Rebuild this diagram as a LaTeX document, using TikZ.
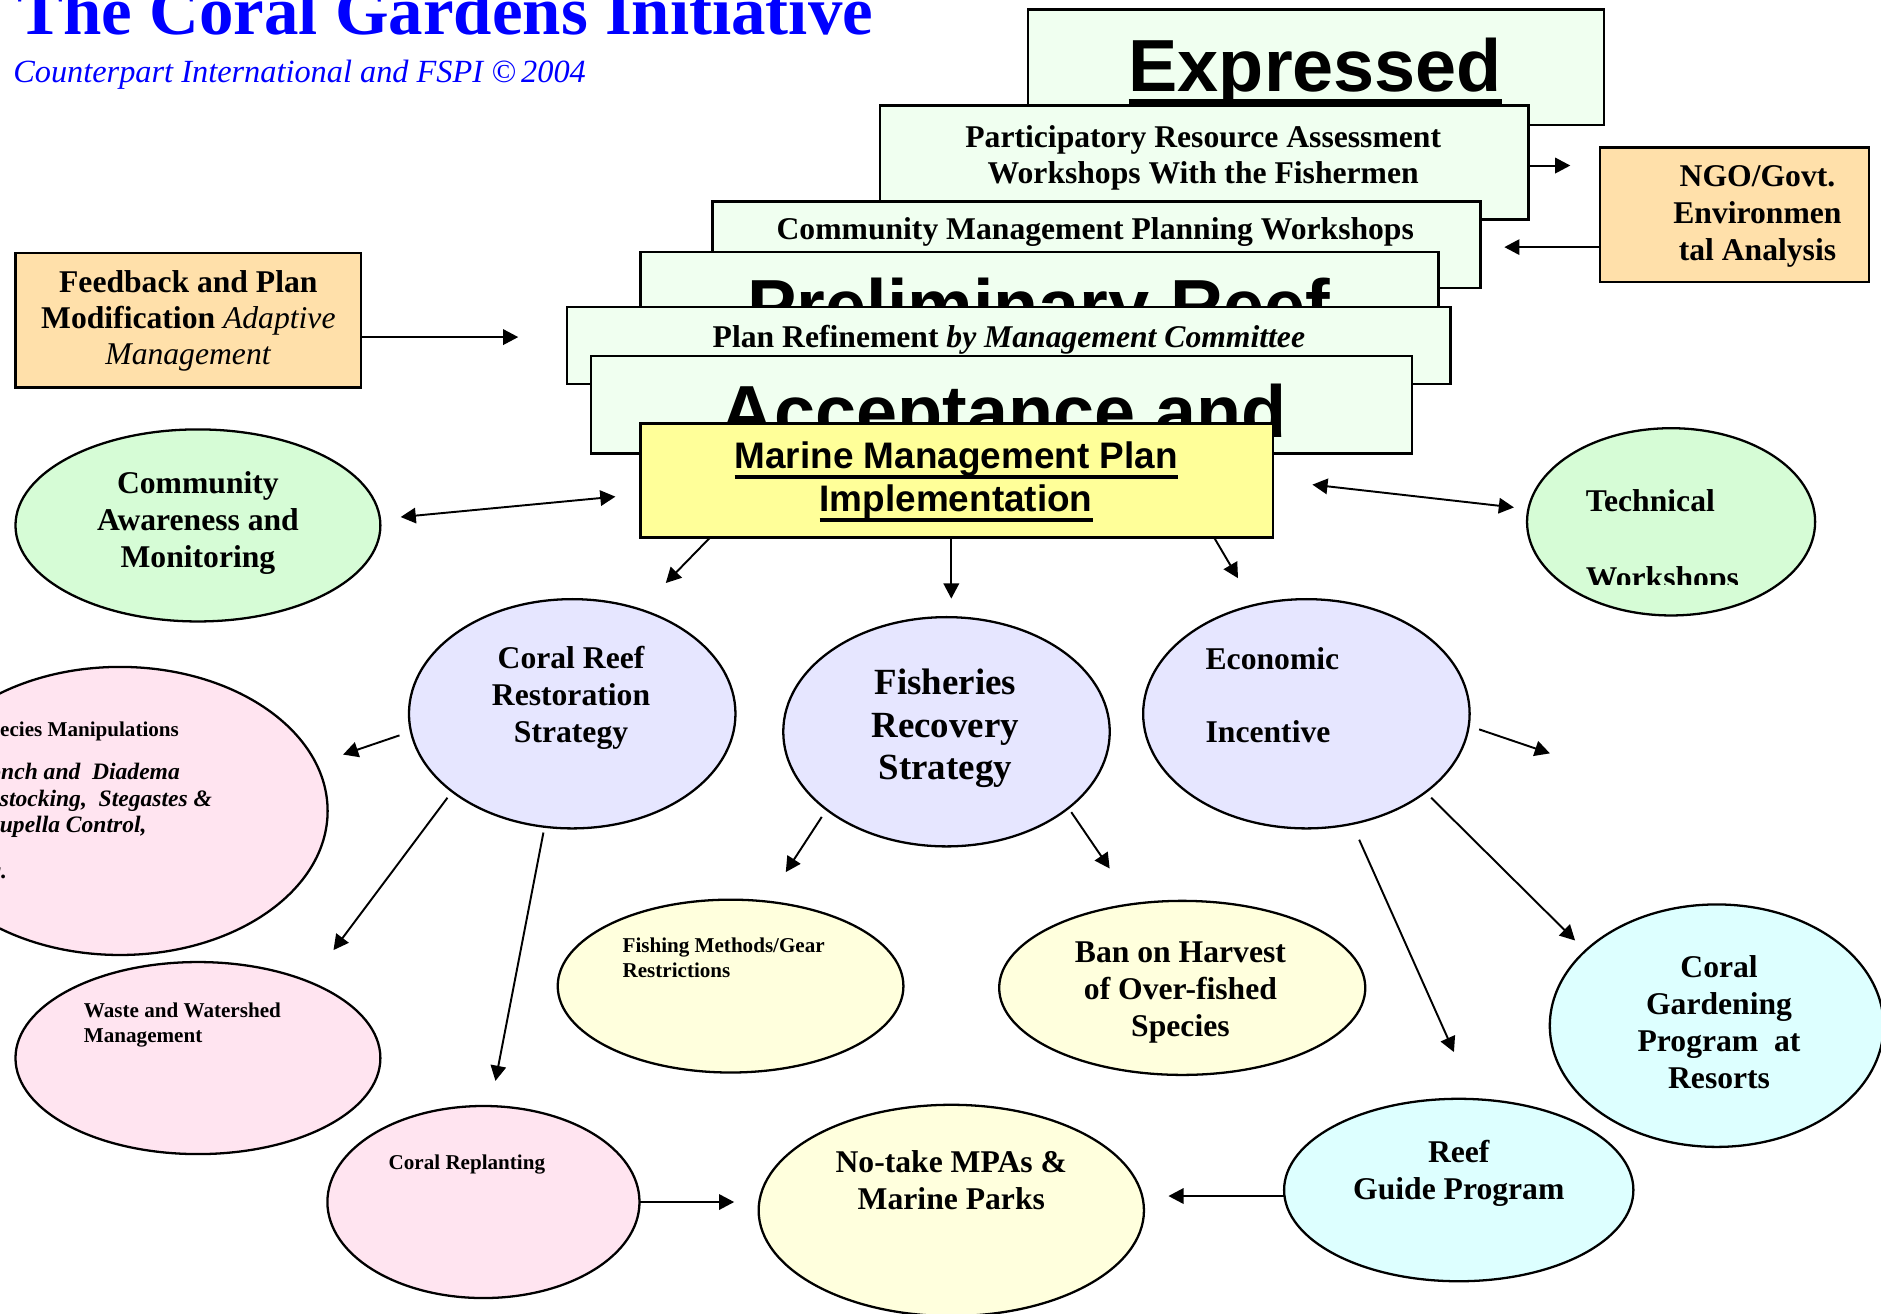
\documentclass[tikz,border=0pt]{standalone}
\usepackage{fontspec}
\setmainfont{Liberation Serif}
\newfontfamily\arialf{Liberation Sans}
\usetikzlibrary{arrows.meta,shapes.geometric}
\definecolor{boxgreen}{HTML}{F0FFF0}
\definecolor{tanbox}{HTML}{FFE0AA}
\definecolor{lgreen}{HTML}{D6FCD6}
\definecolor{lavend}{HTML}{E6E6FF}
\definecolor{lpink}{HTML}{FFE4F0}
\definecolor{lyellow}{HTML}{FFFFDD}
\definecolor{lcyan}{HTML}{DDFFFF}
\definecolor{myellow}{HTML}{FFFF99}
\newcommand{\myuline}[3]{\setbox0=\hbox{#3}\rlap{\rule[-\dimexpr#1+#2\relax]{\wd0}{#2}}\box0}
\begin{document}
\begin{tikzpicture}[x=0.012cm,y=-0.012cm,
  shp/.style={draw=black, line width=0.65pt, inner sep=0pt, outer sep=0pt},
  box/.style={shp, rectangle, fill=boxgreen},
  ell/.style={shp, ellipse},
  tb/.style={inner sep=0pt, outer sep=0pt, align=center, font=\fontsize{9}{10.5}\selectfont\bfseries},
  tsmall/.style={inner sep=0pt, outer sep=0pt, anchor=base west, align=left, font=\fontsize{6}{7.1}\selectfont\bfseries},
  abig/.style={inner sep=0pt, outer sep=0pt, font=\arialf\bfseries\fontsize{21}{24}\selectfont},
  arr/.style={line width=0.55pt, -{Triangle[length=4.3pt,width=4.4pt]}},
  darr/.style={line width=0.55pt, {Triangle[length=4.3pt,width=4.4pt]}-{Triangle[length=4.3pt,width=4.4pt]}}
]
\useasboundingbox (0,0) rectangle (1568,1095);
\begin{scope}
\clip (0,0) rectangle (1568,1095);

% title (base anchor of a multi-line node = baseline of its last line)
\node[anchor=base west, inner sep=0pt, text=blue, font=\fontsize{19.6}{22}\selectfont\bfseries] (title) at (14,29) {The Coral Gardens Initiative};
\node[anchor=base west, inner sep=0pt, text=blue, font=\fontsize{9.2}{11}\selectfont\itshape] (subtitle) at (10.5,69) {Counterpart International and FSPI ©\,2004};

% stacked boxes
\node[box, minimum width=5.76cm, minimum height=1.152cm] (expr) at (1097,56) {};
\node[abig, anchor=base] (t-expr) at (1096.5,76) {\myuline{2.2pt}{1.8pt}{Expressed}};
\node[box, minimum width=6.48cm, minimum height=1.14cm] (part) at (1004,135.5) {};
\node[tb, anchor=base, font=\fontsize{9}{10.3}\selectfont\bfseries] (t-part) at (1003,153) {Participatory Resource Assessment\\Workshops With the Fishermen};
\node[box, minimum width=7.68cm, minimum height=0.864cm] (cmpw) at (914,204) {};
\node[tb, anchor=base] (t-cmpw) at (913,200) {Community Management Planning Workshops};
\node[box, minimum width=7.98cm, minimum height=1.08cm] (prelim) at (866.5,255) {};
\node[abig, anchor=base] (t-prelim) at (866,276) {Preliminary Reef};
\node[box, minimum width=8.832cm, minimum height=0.768cm] (plan) at (841,288) {};
\node[tb, anchor=base] (t-plan) at (841,290) {Plan Refinement \textit{by Management Committee}};
\node[box, minimum width=8.208cm, minimum height=0.972cm] (accept) at (835,337.5) {};
\node[abig, anchor=base] (t-accept) at (837,365) {Acceptance and};
\node[shp, rectangle, fill=myellow, minimum width=6.324cm, minimum height=1.14cm] (marine) at (797.5,400.5) {};
\node[anchor=base, align=center, inner sep=0pt, font=\arialf\bfseries\fontsize{10.5}{12.2}\selectfont] (t-marine) at (797,426) {\myuline{2pt}{1pt}{Marine Management Plan}\\\myuline{2pt}{1pt}{Implementation}};

% tan boxes
\node[shp, rectangle, fill=tanbox, minimum width=2.688cm, minimum height=1.344cm] (ngo) at (1446,179) {};
\node[tb, anchor=base] (t-ngo) at (1465,217) {NGO/Govt.\\Environmen\\tal Analysis};
\node[shp, rectangle, fill=tanbox, minimum width=3.456cm, minimum height=1.344cm] (feed) at (157,267) {};
\node[tb, anchor=base, font=\fontsize{9}{10.3}\selectfont\bfseries] (t-feed) at (157,304) {Feedback and Plan\\Modification \textit{\mdseries Adaptive}\\\textit{\mdseries Management}};

% green ellipses
\node[ell, fill=lgreen, minimum width=3.648cm, minimum height=1.92cm] (comm) at (165,438) {};
\node[tb, anchor=base] (t-comm) at (165,473) {Community\\Awareness and\\Monitoring};
\node[ell, fill=lgreen, minimum width=2.88cm, minimum height=1.872cm] (tech) at (1393,435) {};
\begin{scope}
\clip (1300,380) rectangle (1510,487.5);
\node[tb, anchor=base west, align=left, font=\fontsize{9}{21.8}\selectfont\bfseries] (t-tech) at (1322,490.5) {Technical\\Workshops};
\end{scope}

% species
\node[ell, fill=lpink, minimum width=4.152cm, minimum height=2.88cm] (species) at (100,676) {};
\node[anchor=base west, inner sep=0pt, font=\fontsize{6}{7}\selectfont\bfseries] (t-spec) at (-20,614) {Species Manipulations};
\node[anchor=base west, inner sep=0pt, align=left, font=\fontsize{6.7}{7.5}\selectfont\bfseries\itshape] (t-spec2) at (-22.5,694) {Conch and\ \ Diadema\\Restocking,\ \ Stegastes \&\\Drupella Control,};
\node[anchor=base west, inner sep=0pt, font=\fontsize{6.7}{7.5}\selectfont\bfseries\itshape] (t-spec3) at (-22.5,732) {etc.};

% strategies
\node[ell, fill=lavend, minimum width=3.264cm, minimum height=2.292cm] (crr) at (477,595) {};
\node[tb, anchor=base] (t-crr) at (476,619) {Coral Reef\\Restoration\\Strategy};
\node[ell, fill=lavend, minimum width=3.264cm, minimum height=2.292cm] (fish) at (789,610) {};
\node[tb, anchor=base, font=\fontsize{10.5}{12.1}\selectfont\bfseries] (t-fish) at (788,650) {Fisheries\\Recovery\\Strategy};
\node[ell, fill=lavend, minimum width=3.264cm, minimum height=2.292cm] (econ) at (1089,595) {};
\node[tb, anchor=base west, align=left, font=\fontsize{9}{20.7}\selectfont\bfseries] (t-econ) at (1005,619) {Economic\\Incentive};

% outcomes
\node[ell, fill=lyellow, minimum width=3.456cm, minimum height=1.728cm] (gear) at (609,822) {};
\node[tsmall] (t-gear) at (519,815) {Fishing Methods/Gear\\Restrictions};
\node[ell, fill=lyellow, minimum width=3.66cm, minimum height=1.74cm] (ban) at (985.5,823.5) {};
\node[tb, anchor=base] (t-ban) at (984,864) {Ban on Harvest\\of Over-fished\\Species};
\node[ell, fill=lpink, minimum width=3.648cm, minimum height=1.92cm] (waste) at (165,882) {};
\node[tsmall] (t-waste) at (70,869) {Waste and Watershed\\Management};
\node[ell, fill=lpink, minimum width=3.12cm, minimum height=1.92cm] (repl) at (403,1002) {};
\node[tsmall] (t-repl) at (324,975) {Coral Replanting};
\node[ell, fill=lyellow, minimum width=3.852cm, minimum height=2.112cm] (notake) at (793,1009) {};
\node[tb, anchor=base] (t-notake) at (793,1008) {No-take MPAs \&\\Marine Parks};
\node[ell, fill=lcyan, minimum width=3.492cm, minimum height=1.824cm] (reef) at (1216,992) {};
\node[tb, anchor=base] (t-reef) at (1216,1000) {Reef\\Guide Program};
\node[ell, fill=lcyan, minimum width=3.336cm, minimum height=2.424cm] (garden) at (1431,855) {};
\node[tb, anchor=base] (t-garden) at (1433,907) {Coral\\Gardening\\Program\ \ at\\Resorts};

% connector end points
\coordinate (e-part) at (1309,138);
\coordinate (e-ngo) at (1254,206);
\coordinate (e-feed) at (432,281);
\coordinate (c-l) at (334,431);
\coordinate (c-r) at (513,414);
\coordinate (t-l) at (1094,404);
\coordinate (t-r) at (1262,423);
\coordinate (m-a) at (592,448);
\coordinate (m-ae) at (555,486);
\coordinate (m-b) at (793,448);
\coordinate (m-be) at (793,499);
\coordinate (m-c) at (1012,448);
\coordinate (m-ce) at (1032,482);
\coordinate (cr-a) at (333,613);
\coordinate (cr-ae) at (286,629);
\coordinate (cr-b) at (373,665);
\coordinate (cr-be) at (278,792);
\coordinate (cr-c) at (453,694);
\coordinate (cr-ce) at (413,901);
\coordinate (f-a) at (685,681);
\coordinate (f-ae) at (655,727);
\coordinate (f-b) at (893,677);
\coordinate (f-be) at (925,724);
\coordinate (ec-a) at (1233,608);
\coordinate (ec-ae) at (1292,628);
\coordinate (ec-b) at (1133,700);
\coordinate (ec-be) at (1212,877);
\coordinate (ec-c) at (1193,665);
\coordinate (ec-ce) at (1313,784);
\coordinate (r-e) at (612,1002);
\coordinate (g-e) at (974,997);

% connectors
\draw[arr] (part.east |- e-part) -- (e-part);
\draw[arr] (ngo.west |- e-ngo) -- (e-ngo);
\draw[arr] (feed.east |- e-feed) -- (e-feed);
\draw[darr] (c-l) -- (c-r);
\draw[darr] (t-l) -- (t-r);
\draw[arr] (m-a) -- (m-ae);
\draw[arr] (m-b) -- (m-be);
\draw[arr] (m-c) -- (m-ce);
\draw[arr] (cr-a) -- (cr-ae);
\draw[arr] (cr-b) -- (cr-be);
\draw[arr] (cr-c) -- (cr-ce);
\draw[arr] (f-a) -- (f-ae);
\draw[arr] (f-b) -- (f-be);
\draw[arr] (ec-a) -- (ec-ae);
\draw[arr] (ec-b) -- (ec-be);
\draw[arr] (ec-c) -- (ec-ce);
\draw[arr] (repl.east) -- (r-e);
\draw[arr] (reef.west |- g-e) -- (g-e);
\end{scope}
\end{tikzpicture}
\end{document}
